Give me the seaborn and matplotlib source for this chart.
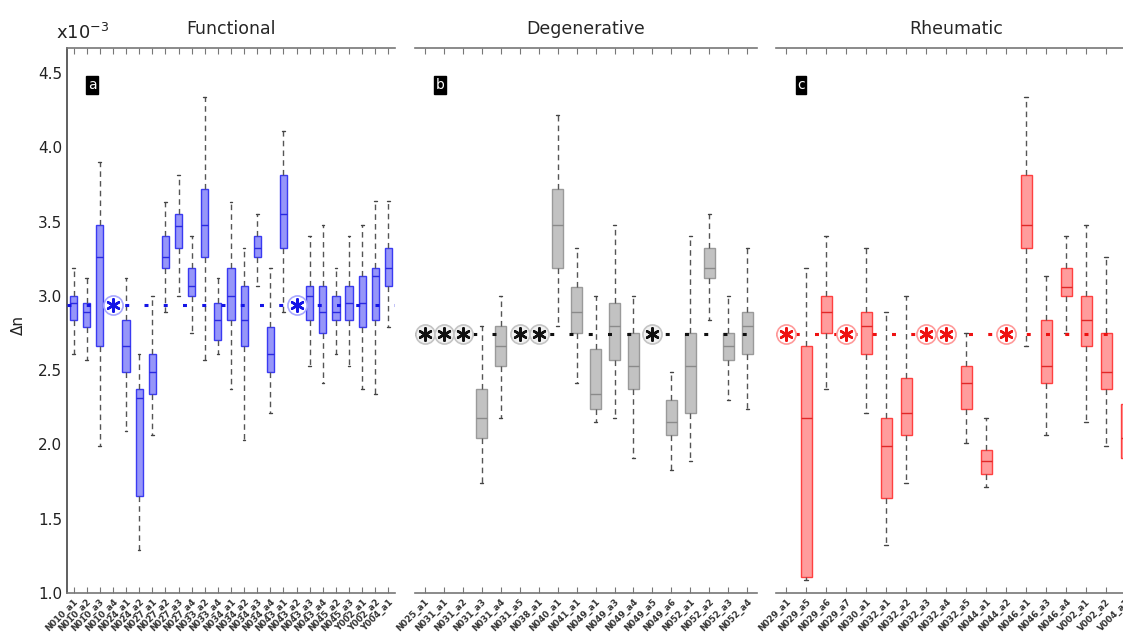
import numpy as np
import pandas as pd
import matplotlib
matplotlib.use("Agg")
import matplotlib.pyplot as plt
import seaborn as sns

nan = np.nan

# ---- panel a: Functional ----
func_labels = ["N010_a1", "N010_a2", "N010_a3", "N010_a4", "N024_a1", "N024_a2",
               "N027_a1", "N027_a2", "N027_a3", "N027_a4", "N033_a2", "N033_a4",
               "N034_a1", "N034_a2", "N034_a3", "N034_a4", "N043_a1", "N043_a2",
               "N043_a3", "N043_a4", "N045_a2", "N045_a3", "Y002_a1", "Y002_a2",
               "Y004_a1"]
func_lo = [2.61, 2.57, 1.99, nan, 2.09, 1.29, 2.06, 2.89, 3.00, 2.75, 2.57, 2.61, 2.37,
           2.03, 3.065, 2.21, 2.89, nan, 2.53, 2.41, 2.61, 2.53, 2.37, 2.34, 2.79]
func_q1 = [2.84, 2.79, 2.66, nan, 2.49, 1.65, 2.34, 3.19, 3.32, 3.00, 3.26, 2.70, 2.84,
           2.66, 3.26, 2.49, 3.32, nan, 2.84, 2.75, 2.84, 2.84, 2.79, 2.84, 3.065]
func_med = [2.95, 2.89, 3.26, nan, 2.66, 2.31, 2.49, 3.26, 3.47, 3.065, 3.475, 2.84, 3.00,
            2.84, 3.32, 2.61, 3.55, nan, 3.00, 2.89, 2.89, 2.95, 2.95, 3.13, 3.19]
func_q3 = [3.00, 2.95, 3.475, nan, 2.84, 2.37, 2.61, 3.40, 3.55, 3.19, 3.72, 2.95, 3.19,
           3.065, 3.40, 2.79, 3.81, nan, 3.065, 3.065, 3.00, 3.065, 3.13, 3.19, 3.32]
func_hi = [3.19, 3.12, 3.90, nan, 3.12, 2.61, 3.00, 3.63, 3.81, 3.40, 4.34, 3.12, 3.63,
           3.32, 3.55, 3.19, 4.11, nan, 3.40, 3.475, 3.19, 3.40, 3.475, 3.635, 3.635]
func_ref = 2.94

# ---- panel b: Degenerative ----
degen_labels = ["N025_a1", "N031_a1", "N031_a2", "N031_a3", "N031_a4", "N031_a5",
                "N038_a1", "N040_a1", "N041_a1", "N049_a1", "N049_a3", "N049_a4",
                "N049_a5", "N049_a6", "N052_a1", "N052_a2", "N052_a3", "N052_a4"]
degen_lo = [nan, nan, nan, 1.74, 2.18, nan, nan, 2.80, 2.41, 2.15, 2.18, 1.91,
            nan, 1.83, 1.89, 2.84, 2.30, 2.24]
degen_q1 = [nan, nan, nan, 2.04, 2.53, nan, nan, 3.19, 2.75, 2.24, 2.57, 2.37,
            nan, 2.06, 2.21, 3.12, 2.57, 2.61]
degen_med = [nan, nan, nan, 2.18, 2.66, nan, nan, 3.475, 2.89, 2.34, 2.80, 2.53,
             nan, 2.15, 2.53, 3.19, 2.66, 2.80]
degen_q3 = [nan, nan, nan, 2.37, 2.80, nan, nan, 3.72, 3.06, 2.645, 2.95, 2.75,
            nan, 2.30, 2.75, 3.32, 2.75, 2.89]
degen_hi = [nan, nan, nan, 2.80, 3.00, nan, nan, 4.22, 3.32, 3.00, 3.475, 3.00,
            nan, 2.49, 3.40, 3.55, 3.00, 3.32]
degen_ref = 2.745

# ---- panel c: Rheumatic ----
rheum_labels = ["N029_a1", "N029_a5", "N029_a6", "N029_a7", "N030_a1", "N032_a1",
                "N032_a2", "N032_a3", "N032_a4", "N032_a5", "N044_a1", "N044_a2",
                "N046_a1", "N046_a3", "N046_a4", "V002_a1", "V002_a2", "V004_a1"]
rheum_lo = [nan, 1.09, 2.37, nan, 2.21, 1.32, 1.74, nan, nan, 2.01, 1.71, nan,
            2.66, 2.06, 2.75, 2.15, 1.99, 1.65]
rheum_q1 = [nan, 1.11, 2.75, nan, 2.61, 1.64, 2.06, nan, nan, 2.24, 1.80, nan,
            3.32, 2.415, 3.00, 2.66, 2.37, 1.91]
rheum_med = [nan, 2.18, 2.89, nan, 2.80, 1.99, 2.21, nan, nan, 2.415, 1.89, nan,
             3.475, 2.53, 3.06, 2.84, 2.49, 2.04]
rheum_q3 = [nan, 2.66, 3.00, nan, 2.89, 2.18, 2.45, nan, nan, 2.53, 1.96, nan,
            3.81, 2.84, 3.19, 3.00, 2.75, 2.27]
rheum_hi = [nan, 3.19, 3.40, nan, 3.32, 2.89, 3.00, nan, nan, 2.75, 2.18, nan,
            4.34, 3.13, 3.40, 3.475, 3.26, 2.57]
rheum_ref = 2.745

sns.set_style("white")
plt.rcParams["font.family"] = ["DejaVu Sans"]

W, H = 1123, 635
fig = plt.figure(figsize=(W / 100, H / 100), dpi=100)

# axes boxes in pixels: left, right
panels = [
    dict(title="Functional", letter="a", labels=func_labels,
         stats=(func_lo, func_q1, func_med, func_q3, func_hi), ref=func_ref,
         px=(67, 395), face=(0.45, 0.45, 0.97, 0.75), edge="#3a3af2", med="#2a2ae0",
         line="#1414e6", ring="#a8a8ff", ringface="white"),
    dict(title="Degenerative", letter="b", labels=degen_labels,
         stats=(degen_lo, degen_q1, degen_med, degen_q3, degen_hi), ref=degen_ref,
         px=(415, 757), face=(0.72, 0.72, 0.72, 0.85), edge="#9a9a9a", med="#8a8a8a",
         line="#111111", ring="#c4c4c4", ringface="#f1f1f1"),
    dict(title="Rheumatic", letter="c", labels=rheum_labels,
         stats=(rheum_lo, rheum_q1, rheum_med, rheum_q3, rheum_hi), ref=rheum_ref,
         px=(776, 1136), face=(1.0, 0.45, 0.45, 0.7), edge="#ff4040", med="#e02828",
         line="#ee1111", ring="#ff9a9a", ringface="white"),
]

y_bot, y_top = 593, 48
ymin = 1.0
ymax = 1.0 + (y_bot - y_top) / 148.6

for i, p in enumerate(panels):
    x0, x1 = p["px"]
    ax = fig.add_axes([x0 / W, 1 - y_bot / H, (x1 - x0) / W, (y_bot - y_top) / H])
    labels = p["labels"]
    vals = np.column_stack(p["stats"])
    df = pd.DataFrame({"label": np.repeat(labels, 5), "dn": vals.ravel()}).dropna()

    sns.boxplot(data=df, x="label", y="dn", order=labels, ax=ax,
                whis=np.inf, width=0.55, showfliers=False, linewidth=1,
                boxprops=dict(facecolor=p["face"], edgecolor=p["edge"], linewidth=1),
                whiskerprops=dict(color="#555555", linestyle=(0, (4, 3)), linewidth=1),
                capprops=dict(color="#444444", linewidth=1),
                medianprops=dict(color=p["med"], linewidth=1),
                capwidths=0.2)

    ax.axhline(p["ref"], color=p["line"], lw=2.2, linestyle=(0, (1.3, 5)), zorder=4)

    missing = [k for k, v in enumerate(p["stats"][2]) if np.isnan(v)]
    ax.scatter(missing, [p["ref"]] * len(missing), s=190, marker="o",
               facecolor=p["ringface"], edgecolor=p["ring"], linewidth=1.2, zorder=5)
    ax.scatter(missing, [p["ref"]] * len(missing), s=80, marker=(6, 2, 0),
               color=p["line"], linewidth=1.8, zorder=6)

    ax.set_xlim(-0.5, len(labels) - 0.5)
    ax.set_ylim(ymin, ymax)
    ax.set_xlabel("")
    ax.set_ylabel("")
    ax.set_title(p["title"], fontsize=12.5, pad=10)

    ax.tick_params(axis="x", direction="in", top=True, bottom=True, length=4,
                   color="#777777", labelsize=6.3, labelcolor="#333333", pad=3)
    plt.setp(ax.get_xticklabels(), rotation=45, ha="right",
             rotation_mode="anchor", fontweight="bold")

    for side in ["top", "bottom"]:
        ax.spines[side].set_color("#777777")
        ax.spines[side].set_linewidth(1.2)
    ax.spines["right"].set_visible(False)

    if i == 0:
        ax.set_yticks([1.0, 1.5, 2.0, 2.5, 3.0, 3.5, 4.0, 4.5])
        ax.set_yticklabels(["1.0", "1.5", "2.0", "2.5", "3.0", "3.5", "4.0", "4.5"])
        ax.tick_params(axis="y", direction="in", length=4, color="#555555",
                       labelsize=11, labelcolor="#222222")
        ax.spines["left"].set_color("#444444")
        ax.spines["left"].set_linewidth(1.2)
    else:
        ax.spines["left"].set_visible(False)
        ax.tick_params(axis="y", left=False, labelleft=False)

    fig.text((x0 + 25) / W, 1 - 85 / H, p["letter"], color="white", fontsize=10,
             ha="center", va="center",
             bbox=dict(boxstyle="square,pad=0.12", facecolor="black", edgecolor="black"))

fig.text(56 / W, 1 - 33 / H, r"$\mathregular{x10^{-3}}$", fontsize=13,
         ha="left", va="center", color="#222222")
fig.text(18 / W, 1 - 325 / H, "Δn", fontsize=11, rotation=90,
         ha="center", va="center", color="#222222")

fig.savefig("out.png", dpi=100)
